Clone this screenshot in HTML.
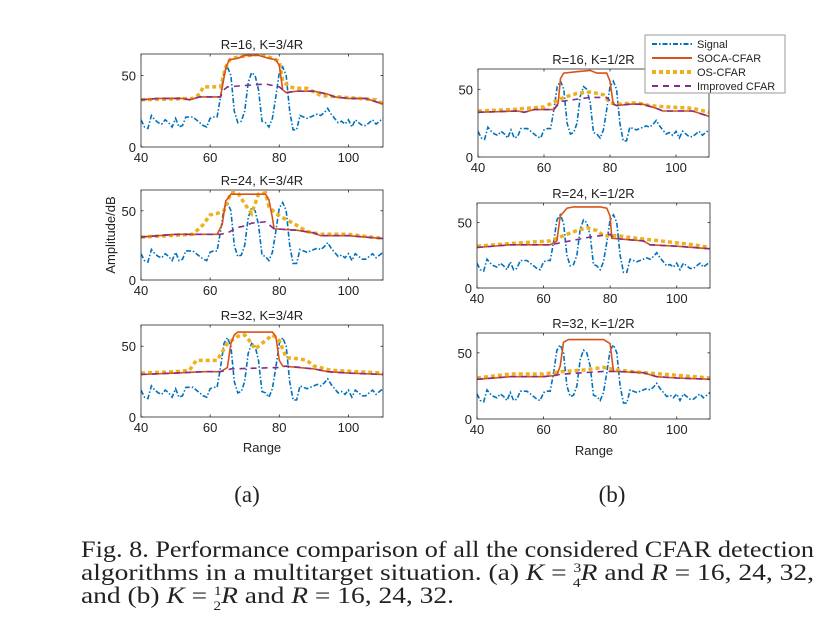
<!DOCTYPE html>
<html><head><meta charset="utf-8"><style>
body{margin:0;background:#fff;}
svg{display:block;}
text{font-family:"Liberation Sans",Arial,sans-serif;}
.cap{font-family:"Liberation Serif","Times New Roman",serif;font-size:23px;fill:#222;}
</style></head><body>
<svg id="fig" width="831" height="642" viewBox="0 0 831 642" xmlns="http://www.w3.org/2000/svg">
<g id="plots"></g>
<g>
<rect x="645" y="35" width="140" height="58" fill="#fff" stroke="#999" stroke-width="1"/>
<line x1="652" y1="44" x2="692" y2="44" stroke="#0072BD" stroke-width="2" stroke-dasharray="5,2,1.5,2"/>
<text x="697" y="48" font-size="11" fill="#222">Signal</text>
<line x1="652" y1="58" x2="692" y2="58" stroke="#D95319" stroke-width="2"/>
<text x="697" y="62" font-size="11" fill="#222">SOCA-CFAR</text>
<line x1="652" y1="72" x2="692" y2="72" stroke="#EDB120" stroke-width="4" stroke-dasharray="4,3"/>
<text x="697" y="76" font-size="11" fill="#222">OS-CFAR</text>
<line x1="652" y1="86" x2="692" y2="86" stroke="#7E2F8E" stroke-width="2" stroke-dasharray="6,5"/>
<text x="697" y="90" font-size="11" fill="#222">Improved CFAR</text>
</g>
<text x="115" y="235" font-size="13" fill="#222" text-anchor="middle" transform="rotate(-90 115 235)">Amplitude/dB</text>
<text x="262" y="452" font-size="13" fill="#222" text-anchor="middle">Range</text>
<text x="594" y="455" font-size="13" fill="#222" text-anchor="middle">Range</text>
<text class="cap" x="247" y="502" text-anchor="middle">(a)</text>
<text class="cap" x="612" y="502" text-anchor="middle">(b)</text>
<g>
<text class="cap" x="81" y="557" textLength="733" lengthAdjust="spacingAndGlyphs">Fig. 8.  Performance comparison of all the considered CFAR detection</text>
<text class="cap" x="81" y="580" textLength="733" lengthAdjust="spacingAndGlyphs">algorithms in a multitarget situation. (a) <tspan font-style="italic">K</tspan> = <tspan font-size="13" dy="-8">3</tspan><tspan font-size="13" dx="-7" dy="15">4</tspan><tspan font-style="italic" dy="-7">R</tspan> and <tspan font-style="italic">R</tspan> = 16, 24, 32,</text>
<text class="cap" x="81" y="603" textLength="373" lengthAdjust="spacingAndGlyphs">and (b) <tspan font-style="italic">K</tspan> = <tspan font-size="13" dy="-8">1</tspan><tspan font-size="13" dx="-7" dy="15">2</tspan><tspan font-style="italic" dy="-7">R</tspan> and <tspan font-style="italic">R</tspan> = 16, 24, 32.</text>
</g>
</svg>
<script>
const signalX = [40,41,42,43,44,45,46,47,48,49,50,51,52,53,54,55,56,57,58,59,60,61,62,63,64,65,66,67,68,69,70,71,72,73,74,75,76,77,78,79,80,81,82,83,84,85,86,87,88,89,90,91,92,93,94,95,96,97,98,99,100,101,102,103,104,105,106,107,108,109,110];
const signalY = [19,14,13,22,19,17,16,19,17,14,20,14,15,21,21,21,19,17,15,14,20,21,21,35,52,56,50,25,17,18,25,45,52,50,40,18,17,14,20,35,52,56,50,25,12,12,22,21,20,21,22,23,22,24,27,23,20,17,18,16,19,14,19,17,15,15,17,19,16,18,20];
const xTicks = [40,60,80,100];
const yTicks = [0,50];
const titles = ["R=16, K=3/4R","R=24, K=3/4R","R=32, K=3/4R","R=16, K=1/2R","R=24, K=1/2R","R=32, K=1/2R"];
const socaX = [
 [40,45,52,54,57,63,64.5,65.5,68,70,74,77,79,80,81,82,85,90,94,96,100,105,110],
 [40,45,50,62,63.5,64.5,66,76,77,78,78.5,85,90,92,100,110],
 [40,50,58,63,65,66,67,68,78,79,80,81,90,94,100,110],
 [40,52,54,57,63,64.3,65,66,70,74,76,79,80,81,82,86,90,94,96,105,110],
 [40,50,62,64,65,67,69,77,79,80,80.5,85,90,92,100,110],
 [40,50,60,64,65,66,67.5,78,80,81,90,94,100,110]];
const socaY = [
 [33,34,34,33,35,35,55,61,62,64,64,62,61,57,40,38,39,39,37,35,34,34,30],
 [31,32,33,33,40,57,62,62,58,45,37,36,34,32,32,30],
 [30,31,32,32,35,52,58,60,60,57,40,36,34,32,31,30],
 [33,34,33,35,35,40,58,62,63,64,62,62,56,39,38,39,39,36,34,34,30],
 [31,33,33,36,55,61,62,62,61,55,38,37,36,33,32,30],
 [30,32,32,33,40,58,60,60,57,36,35,32,31,30]];
const impX = [
 [40,45,52,54,57,63,64,65,70,76,80,82,85,90,94,96,100,105,110],
 [40,45,50,63,65,68,70,72,76,78.5,85,90,92,100,110],
 [40,50,58,63,66,80,82,90,94,100,110],
 [40,52,54,57,63,65,68,74,79,81,82,86,90,94,96,105,110],
 [40,50,62,66,70,74,80,81,85,90,92,100,110],
 [40,50,60,66,78,82,90,94,100,110]];
const impY = [
 [33,34,34,33,35,35,40,42,43,44,42,38,39,39,37,35,34,34,30],
 [31,32,33,33,34,38,39,41,42,37,36,34,32,32,30],
 [30,31,32,32,34,35,36,34,32,31,30],
 [33,34,33,35,35,41,42,44,44,39,38,39,39,36,34,34,30],
 [31,33,33,35,37,39,41,38,37,36,33,32,30],
 [30,32,32,34,36,36,35,32,31,30]];
const osX = [
 [40,55,57,58,63,64.5,66,74,78,80,81,83,85,88,92,97,103,108,110],
 [40,55,58,60,62,64,66,68,70,72,74,76,77,79,81,84,88,92,100,110],
 [40,50,54,56,62,65,68,70,72,73,75,78,80,82,86,88,90,95,110],
 [40,50,60,66,70,74,78,80,82,88,92,97,105,110],
 [40,50,62,66,70,73,76,78,82,88,95,105,110],
 [40,50,60,66,72,78,82,90,100,110]];
const osY = [
 [33,34,37,42,42,56,62,65,62,60,46,42,41,41,36,35,34,33,30],
 [31,33,40,47,48,50,63,63,55,48,62,63,53,48,45,41,35,33,33,30],
 [31,32,33,40,40,52,57,58,52,48,52,58,54,42,41,40,36,33,31],
 [34,35,37,44,47,48,46,40,39,40,38,37,36,33],
 [32,34,36,40,44,46,44,40,40,38,36,33,31],
 [31,34,34,36,37,39,37,35,33,31]];

const panels = [
 {l:141,r:383,t:54,b:147},{l:141,r:383,t:190,b:280},{l:141,r:383,t:325,b:417},
 {l:478,r:709,t:69,b:157},{l:477,r:710,t:203,b:288},{l:477,r:710,t:333,b:419}];
const NS="http://www.w3.org/2000/svg";
const root=document.getElementById('plots');
function mk(tag,attrs,parent){const e=document.createElementNS(NS,tag);for(const k in attrs)e.setAttribute(k,attrs[k]);parent.appendChild(e);return e;}
panels.forEach((p,i)=>{
  const g=mk('g',{},root);
  
  
  const sx=v=>p.l+(v-40)/(110-40)*(p.r-p.l);
  const sy=v=>p.b-(v/65)*(p.b-p.t);
  mk('rect',{x:p.l,y:p.t,width:p.r-p.l,height:p.b-p.t,fill:'#fff'},g);
  const t=mk('text',{x:(p.l+p.r)/2,y:p.t-5,'font-size':13,fill:'#222','text-anchor':'middle'},g);
  t.textContent=titles[i];
  
  
  const clip=mk('clipPath',{id:'c'+i},g);
  mk('rect',{x:p.l,y:p.t,width:p.r-p.l,height:p.b-p.t},clip);
  const pts=(xs,ys)=>xs.map((x,j)=>sx(x).toFixed(1)+','+sy(ys[j]).toFixed(1)).join(' ');
  const lines=[
   [signalX,signalY,'#0072BD',1.6,'5,2,1.5,2','signal-line'],
   [osX[i],osY[i],'#EDB120',3.5,'4,3','os-cfar-line'],
   [socaX[i],socaY[i],'#D95319',1.6,'','soca-cfar-line'],
   [impX[i],impY[i],'#7E2F8E',1.6,'6,5','improved-cfar-line']];
  lines.forEach(L=>{
    const pl=mk('polyline',{points:pts(L[0],L[1]),fill:'none',stroke:L[2],'stroke-width':L[3],'clip-path':'url(#c'+i+')'},g);
    if(L[4])pl.setAttribute('stroke-dasharray',L[4]);
    
    
  });
  mk('rect',{x:p.l,y:p.t,width:p.r-p.l,height:p.b-p.t,fill:'none',stroke:'#262626','stroke-width':0.8},g);
  xTicks.forEach(v=>{
    mk('line',{x1:sx(v),x2:sx(v),y1:p.b,y2:p.b-2.5,stroke:'#262626','stroke-width':0.8},g);
    mk('line',{x1:sx(v),x2:sx(v),y1:p.t,y2:p.t+2.5,stroke:'#262626','stroke-width':0.8},g);
    const tx=mk('text',{x:sx(v),y:p.b+15,'font-size':13,fill:'#222','text-anchor':'middle'},g);
    tx.textContent=v;
    
    
  });
  yTicks.forEach(v=>{
    mk('line',{x1:p.l,x2:p.l+2.5,y1:sy(v),y2:sy(v),stroke:'#262626','stroke-width':0.8},g);
    mk('line',{x1:p.r,x2:p.r-2.5,y1:sy(v),y2:sy(v),stroke:'#262626','stroke-width':0.8},g);
    const ty=mk('text',{x:p.l-5,y:sy(v)+5,'font-size':13,fill:'#222','text-anchor':'end'},g);
    ty.textContent=v;
    
    
  });
});
</script>
</body></html>
